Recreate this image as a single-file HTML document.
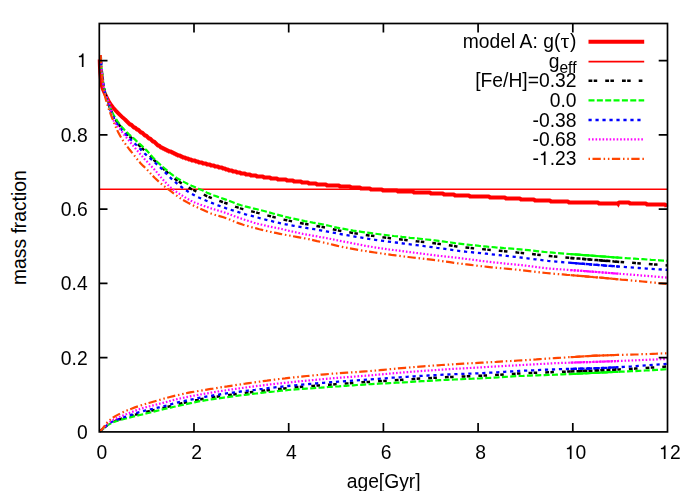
<!DOCTYPE html><html><head><meta charset="utf-8"><title>chart</title><style>
html,body{margin:0;padding:0;background:#fff}
#c{position:relative;width:699px;height:491px;overflow:hidden;background:#fff;font-family:"Liberation Sans",sans-serif;font-size:19.3px;color:#000;line-height:1}
.t{position:absolute;white-space:nowrap;line-height:1;height:19.3px;transform:scaleY(1.060);transform-origin:50% 84.65%;filter:grayscale(1)}
.r{text-align:right}
.one{width:0.556em;height:0.688em;vertical-align:baseline;fill:#000;display:inline-block}
.c{text-align:center;width:120px}
.sym{font-family:"Liberation Serif",serif;display:inline-block;transform:scaleX(1.15);margin:0 1px}
.sub{font-size:15.6px;position:relative;top:5.2px}
.yt{position:absolute;white-space:nowrap;line-height:1;width:200px;text-align:center;transform:rotate(-90deg);transform-origin:center center}
</style></head><body><div id="c">
<svg width="699" height="491" viewBox="0 0 699 491" style="position:absolute;left:0;top:0">
<rect width="699" height="491" fill="#fff"/>
<path d="M99.7 59.5 L99.8 62.9 L99.9 66.3 L100.1 69.7 L100.3 73.1 L100.7 76.6 L101.0 80.0 L101.5 83.4 L102.1 86.7 L103.2 89.9 L104.6 93.0 L106.1 96.2 L107.6 99.3 L109.2 102.2 L111.1 105.0 L113.2 107.7 L115.5 110.3 L117.9 112.8 L120.2 115.2 L122.7 117.6 L125.0 119.5 L125.0 119.5 L126.0 120.5 L126.0 120.5 L127.0 121.5 L127.0 121.5 L128.0 122.5 L128.0 122.5 L129.0 123.5 L129.0 123.5 L130.0 124.5 L131.0 124.5 L132.0 125.5 L132.0 125.5 L133.0 126.5 L133.0 126.5 L134.0 127.5 L135.0 127.5 L136.0 128.5 L136.0 128.5 L137.0 129.5 L138.0 129.5 L139.0 130.5 L139.0 130.5 L140.0 131.5 L140.0 131.5 L141.0 132.5 L142.0 132.5 L143.0 133.5 L143.0 133.5 L144.0 134.5 L144.0 134.5 L145.0 135.5 L146.0 135.5 L147.0 136.5 L147.0 136.5 L148.0 137.5 L148.0 137.5 L149.0 138.5 L150.0 138.5 L151.0 139.5 L151.0 139.5 L152.0 140.5 L152.0 140.5 L153.0 141.5 L154.0 141.5 L155.0 142.5 L155.0 142.5 L156.0 143.5 L156.0 143.5 L157.0 144.5 L157.0 144.5 L158.0 145.5 L159.0 145.5 L160.0 146.5 L160.0 146.5 L161.0 147.5 L162.0 147.5 L163.0 148.5 L164.0 148.5 L165.0 149.5 L166.0 149.5 L167.0 150.5 L168.0 150.5 L169.0 151.5 L171.0 151.5 L172.0 152.5 L173.0 152.5 L174.0 153.5 L175.0 153.5 L176.0 154.5 L177.0 154.5 L178.0 155.5 L180.0 155.5 L181.0 156.5 L182.0 156.5 L183.0 157.5 L185.0 157.5 L186.0 158.5 L188.0 158.5 L189.0 159.5 L191.0 159.5 L192.0 160.5 L195.0 160.5 L196.0 161.5 L198.0 161.5 L199.0 162.5 L202.0 162.5 L203.0 163.5 L206.0 163.5 L207.0 164.5 L210.0 164.5 L211.0 165.5 L214.0 165.5 L215.0 166.5 L218.0 166.5 L219.0 167.5 L222.0 167.5 L223.0 168.5 L225.0 168.5 L226.0 169.5 L228.0 169.5 L229.0 170.5 L232.0 170.5 L233.0 171.5 L236.0 171.5 L237.0 172.5 L240.0 172.5 L241.0 173.5 L245.0 173.5 L246.0 174.5 L250.0 174.5 L251.0 175.5 L256.0 175.5 L257.0 176.5 L263.0 176.5 L264.0 177.5 L270.0 177.5 L271.0 178.5 L277.0 178.5 L278.0 179.5 L286.0 179.5 L287.0 180.5 L293.0 180.5 L294.0 181.5 L301.0 181.5 L302.0 182.5 L308.0 182.5 L309.0 183.5 L316.0 183.5 L317.0 184.5 L326.0 184.5 L327.0 185.5 L339.0 185.5 L340.0 186.5 L350.0 186.5 L351.0 187.5 L360.0 187.5 L361.0 188.5 L370.0 188.5 L371.0 189.5 L382.0 189.5 L383.0 190.5 L397.0 190.5 L398.0 191.5 L413.0 191.5 L414.0 192.5 L430.0 192.5 L431.0 193.5 L443.0 193.5 L444.0 194.5 L454.0 194.5 L455.0 195.5 L469.0 195.5 L470.0 196.5 L489.0 196.5 L490.0 197.5 L505.0 197.5 L506.0 198.5 L520.0 198.5 L521.0 199.5 L534.0 199.5 L535.0 200.5 L550.0 200.5 L551.0 201.5 L568.0 201.5 L569.0 202.5 L598.0 202.5 L599.0 203.5 L618.0 203.5 L619.0 202.5 L629.0 202.5 L630.0 203.5 L646.0 203.5 L647.0 204.5 L665.0 204.5 L666.0 205.5 L666.0 205.5 L666.5 206.9" fill="none" stroke="#ff0000" stroke-width="3.9" stroke-linejoin="round"/>
<path d="M616.9 205 L618.4 207.8 L619.8 205Z" fill="#ff0000"/>
<path d="M99.3 189.25 H667.5" stroke="#ff0000" stroke-width="1.5" fill="none"/>
<path d="M100.7 55.0 L100.7 55.0 L100.7 55.1 L100.7 55.2 L100.7 55.4 L100.7 55.6 L100.7 56.0 L100.8 56.5 L100.8 57.1 L100.8 57.8 L100.9 58.6 L100.9 59.4 L101.0 60.2 L101.0 61.1 L101.1 62.1 L101.2 63.1 L101.2 64.1 L101.3 65.2 L101.4 66.3 L101.5 67.5 L101.6 68.7 L101.8 70.0 L101.9 71.3 L102.0 72.7 L102.2 74.1 L102.3 75.6 L102.5 77.0 L102.7 78.5 L102.9 80.0 L103.1 81.4 L103.3 82.9 L103.5 84.3 L103.7 85.7 L104.0 87.1 L104.2 88.4 L104.5 89.8 L104.8 91.2 L105.1 92.5 L105.4 93.7 L105.7 95.0 L106.0 96.2 L106.4 97.4 L106.7 98.6 L107.1 99.8 L107.4 100.9 L107.8 102.1 L108.2 103.3 L108.7 104.4 L109.1 105.6 L109.5 106.7 L110.0 107.9 L110.5 109.1 L110.9 110.2 L111.4 111.4 L112.0 112.5 L112.5 113.6 L113.0 114.8 L113.6 115.9 L114.2 117.0 L114.7 118.1 L115.3 119.1 L116.0 120.2 L116.6 121.3 L117.2 122.3 L117.9 123.3 L118.6 124.2 L119.3 125.1 L120.0 126.1 L120.7 127.0 L121.5 127.8 L122.2 128.7 L123.0 129.6 L123.8 130.5 L124.6 131.4 L125.4 132.3 L126.3 133.1 L127.1 134.0 L128.0 134.9 L128.9 135.7 L129.8 136.6 L130.8 137.4 L131.7 138.3 L132.7 139.2 L133.7 140.1 L134.7 141.0 L135.7 142.0 L136.7 143.0 L137.8 144.0 L138.8 145.0 L139.9 146.0 L141.0 147.1 L142.2 148.2 L143.3 149.3 L144.5 150.4 L145.7 151.5 L146.9 152.7 L148.1 154.0 L149.4 155.2 L150.6 156.5 L151.9 157.9 L153.2 159.2 L154.5 160.5 L155.9 161.7 L157.2 163.0 L158.6 164.3 L160.0 165.5 L161.4 166.9 L162.9 168.2 L164.3 169.6 L165.8 171.0 L167.3 172.4 L168.9 173.8 L170.4 175.1 L172.0 176.4 L173.6 177.7 L175.2 179.0 L176.8 180.2 L178.4 181.3 L180.1 182.4 L181.8 183.5 L183.5 184.6 L185.3 185.6 L187.0 186.6 L188.8 187.6 L190.6 188.6 L192.4 189.5 L194.3 190.4 L196.1 191.3 L198.0 192.1 L199.9 193.0 L201.9 193.8 L203.8 194.7 L205.8 195.6 L207.8 196.5 L209.8 197.3 L211.9 198.1 L213.9 198.9 L216.0 199.7 L218.2 200.5 L220.3 201.2 L222.5 202.0 L224.6 202.7 L226.9 203.5 L229.1 204.4 L231.3 205.2 L233.6 206.0 L235.9 206.9 L238.3 207.6 L240.6 208.4 L243.0 209.1 L245.4 209.8 L247.8 210.4 L250.3 211.0 L252.7 211.6 L255.2 212.2 L257.7 212.9 L260.3 213.5 L262.9 214.2 L265.4 214.9 L268.1 215.6 L270.7 216.3 L273.4 217.0 L276.1 217.7 L278.8 218.4 L281.5 219.0 L284.3 219.7 L287.1 220.3 L289.9 220.9 L292.8 221.5 L295.6 222.1 L298.5 222.7 L301.5 223.2 L304.4 223.8 L307.4 224.3 L310.4 224.8 L313.4 225.4 L316.5 225.9 L319.5 226.5 L322.6 227.1 L325.8 227.7 L328.9 228.3 L332.1 229.0 L335.3 229.7 L338.6 230.4 L341.8 231.0 L345.1 231.6 L348.4 232.2 L351.8 232.7 L355.1 233.3 L358.5 233.8 L362.0 234.3 L365.4 234.9 L368.9 235.4 L372.4 235.8 L375.9 236.3 L379.5 236.8 L383.1 237.3 L386.7 237.7 L390.3 238.2 L394.0 238.6 L397.7 239.1 L401.4 239.5 L405.2 239.9 L409.0 240.4 L412.8 240.8 L416.6 241.3 L420.5 241.7 L424.4 242.1 L428.3 242.6 L432.2 243.0 L436.2 243.5 L440.2 244.1 L444.3 244.6 L448.3 245.2 L452.4 245.8 L456.6 246.4 L460.7 246.9 L464.9 247.4 L469.1 247.8 L473.3 248.3 L477.6 248.7 L481.9 249.1 L486.2 249.5 L490.6 250.0 L495.0 250.4 L499.4 250.8 L503.8 251.2 L508.3 251.6 L512.8 252.0 L517.3 252.5 L521.9 252.9 L526.5 253.4 L531.1 254.0 L535.8 254.5 L540.5 255.1 L545.2 255.6 L549.9 256.1 L554.7 256.6 L559.5 257.0 L564.3 257.4 L569.2 257.8 L574.1 258.2 L579.0 258.6 L584.0 259.0 L589.0 259.4 L594.0 259.9 L599.0 260.3 L604.1 260.7 L609.2 261.1 L614.4 261.5 L619.5 261.9 L624.7 262.3 L630.0 262.7 L635.2 263.1 L640.5 263.5 L645.9 263.9 L651.2 264.2 L656.6 264.6 L662.0 265.0 L667.5 265.4" fill="none" stroke="#000000" stroke-width="2.5" stroke-dasharray="3.8 1.4 3.5 8.04"/>
<path d="M100.7 430.7 L100.7 430.7 L100.7 430.7 L100.7 430.7 L100.7 430.7 L100.7 430.7 L100.7 430.6 L100.8 430.6 L100.8 430.6 L100.8 430.6 L100.9 430.5 L100.9 430.5 L101.0 430.5 L101.0 430.4 L101.1 430.3 L101.2 430.3 L101.2 430.2 L101.3 430.1 L101.4 430.1 L101.5 430.0 L101.6 429.9 L101.8 429.8 L101.9 429.7 L102.0 429.5 L102.2 429.4 L102.3 429.3 L102.5 429.1 L102.7 429.0 L102.9 428.8 L103.1 428.6 L103.3 428.5 L103.5 428.3 L103.7 428.1 L104.0 427.9 L104.2 427.7 L104.5 427.4 L104.8 427.2 L105.1 426.9 L105.4 426.7 L105.7 426.5 L106.0 426.2 L106.4 425.9 L106.7 425.7 L107.1 425.4 L107.4 425.1 L107.8 424.8 L108.2 424.5 L108.7 424.2 L109.1 423.9 L109.5 423.7 L110.0 423.4 L110.5 423.1 L110.9 422.8 L111.4 422.5 L112.0 422.3 L112.5 422.1 L113.0 421.8 L113.6 421.6 L114.2 421.3 L114.7 421.1 L115.3 420.9 L116.0 420.6 L116.6 420.4 L117.2 420.2 L117.9 419.9 L118.6 419.7 L119.3 419.5 L120.0 419.3 L120.7 419.1 L121.5 418.8 L122.2 418.6 L123.0 418.4 L123.8 418.2 L124.6 417.9 L125.4 417.7 L126.3 417.4 L127.1 417.2 L128.0 416.9 L128.9 416.7 L129.8 416.4 L130.8 416.1 L131.7 415.8 L132.7 415.5 L133.7 415.2 L134.7 414.9 L135.7 414.6 L136.7 414.3 L137.8 414.0 L138.8 413.7 L139.9 413.5 L141.0 413.2 L142.2 412.9 L143.3 412.6 L144.5 412.3 L145.7 412.0 L146.9 411.7 L148.1 411.4 L149.4 411.1 L150.6 410.8 L151.9 410.5 L153.2 410.2 L154.5 409.9 L155.9 409.6 L157.2 409.3 L158.6 409.0 L160.0 408.6 L161.4 408.3 L162.9 407.9 L164.3 407.6 L165.8 407.2 L167.3 406.8 L168.9 406.5 L170.4 406.1 L172.0 405.7 L173.6 405.3 L175.2 404.9 L176.8 404.5 L178.4 404.1 L180.1 403.7 L181.8 403.3 L183.5 402.9 L185.3 402.5 L187.0 402.1 L188.8 401.8 L190.6 401.4 L192.4 401.0 L194.3 400.6 L196.1 400.2 L198.0 399.9 L199.9 399.5 L201.9 399.1 L203.8 398.8 L205.8 398.5 L207.8 398.1 L209.8 397.8 L211.9 397.5 L213.9 397.1 L216.0 396.8 L218.2 396.5 L220.3 396.2 L222.5 395.9 L224.6 395.6 L226.9 395.3 L229.1 395.0 L231.3 394.7 L233.6 394.4 L235.9 394.1 L238.3 393.8 L240.6 393.5 L243.0 393.2 L245.4 392.9 L247.8 392.6 L250.3 392.3 L252.7 392.0 L255.2 391.7 L257.7 391.4 L260.3 391.1 L262.9 390.8 L265.4 390.5 L268.1 390.2 L270.7 389.9 L273.4 389.6 L276.1 389.3 L278.8 389.0 L281.5 388.7 L284.3 388.4 L287.1 388.1 L289.9 387.9 L292.8 387.6 L295.6 387.3 L298.5 387.1 L301.5 386.8 L304.4 386.6 L307.4 386.4 L310.4 386.1 L313.4 385.9 L316.5 385.6 L319.5 385.4 L322.6 385.2 L325.8 384.9 L328.9 384.7 L332.1 384.5 L335.3 384.2 L338.6 384.0 L341.8 383.7 L345.1 383.5 L348.4 383.3 L351.8 383.0 L355.1 382.8 L358.5 382.6 L362.0 382.3 L365.4 382.1 L368.9 381.9 L372.4 381.6 L375.9 381.4 L379.5 381.2 L383.1 380.9 L386.7 380.7 L390.3 380.5 L394.0 380.2 L397.7 380.0 L401.4 379.8 L405.2 379.5 L409.0 379.3 L412.8 379.1 L416.6 378.8 L420.5 378.6 L424.4 378.4 L428.3 378.2 L432.2 377.9 L436.2 377.7 L440.2 377.5 L444.3 377.3 L448.3 377.1 L452.4 376.9 L456.6 376.7 L460.7 376.6 L464.9 376.4 L469.1 376.2 L473.3 376.1 L477.6 375.9 L481.9 375.7 L486.2 375.5 L490.6 375.3 L495.0 375.0 L499.4 374.7 L503.8 374.4 L508.3 374.1 L512.8 373.9 L517.3 373.6 L521.9 373.4 L526.5 373.1 L531.1 372.9 L535.8 372.8 L540.5 372.6 L545.2 372.4 L549.9 372.2 L554.7 372.0 L559.5 371.9 L564.3 371.7 L569.2 371.5 L574.1 371.3 L579.0 371.2 L584.0 371.0 L589.0 370.8 L594.0 370.6 L599.0 370.4 L604.1 370.2 L609.2 369.9 L614.4 369.7 L619.5 369.4 L624.7 369.2 L630.0 368.9 L635.2 368.6 L640.5 368.3 L645.9 368.0 L651.2 367.6 L656.6 367.3 L662.0 366.9 L667.5 366.5" fill="none" stroke="#000000" stroke-width="2.5" stroke-dasharray="3.8 1.4 3.5 8.04"/>
<path d="M100.7 55.0 L100.9 59.1 L101.2 63.2 L101.5 67.3 L101.9 71.4 L102.3 75.5 L102.8 79.5 L103.4 83.6 L104.1 87.6 L104.9 91.7 L105.9 95.6 L107.1 99.6 L108.5 103.5 L109.9 107.3 L111.6 111.0 L113.5 114.7 L115.5 118.3 L117.7 121.7 L120.1 125.0 L122.8 128.1 L125.6 131.1 L128.6 134.0 L131.7 136.7 L134.8 139.4 L137.8 142.2 L140.8 144.9 L143.9 147.7 L146.8 150.6 L149.5 153.6 L152.2 156.7 L155.0 159.7 L158.0 162.6 L161.0 165.3 L164.1 168.0 L167.3 170.7 L170.4 173.3 L173.7 175.8 L177.0 178.1 L180.6 180.2 L184.2 182.1 L187.9 184.0 L191.6 185.7 L195.3 187.3 L199.1 188.9 L202.9 190.6 L206.6 192.4 L210.3 194.0 L214.1 195.5 L218.0 196.9 L221.9 198.2 L225.8 199.6 L229.6 201.1 L233.4 202.6 L237.3 204.1 L241.1 205.3 L245.1 206.4 L249.1 207.4 L253.1 208.4 L257.1 209.3 L261.0 210.3 L265.0 211.3 L269.0 212.4 L272.9 213.5 L276.9 214.6 L280.8 215.6 L284.8 216.6 L288.8 217.6 L292.8 218.5 L296.8 219.4 L300.8 220.3 L304.8 221.1 L308.9 221.8 L312.9 222.6 L317.0 223.3 L321.0 224.1 L325.0 224.9 L329.0 225.8 L333.0 226.7 L337.0 227.6 L341.0 228.4 L345.1 229.2 L349.1 229.9 L353.1 230.6 L357.2 231.2 L361.3 231.8 L365.3 232.4 L369.4 232.9 L373.5 233.5 L377.5 234.0 L381.6 234.5 L385.7 235.0 L389.7 235.5 L393.8 236.0 L397.9 236.4 L402.0 236.9 L406.1 237.3 L410.1 237.8 L414.2 238.2 L418.3 238.6 L422.4 239.0 L426.5 239.5 L430.5 239.9 L434.6 240.4 L438.7 240.9 L442.7 241.4 L446.8 242.0 L450.9 242.5 L454.9 243.1 L459.0 243.6 L463.1 244.1 L467.2 244.6 L471.2 245.0 L475.3 245.4 L479.4 245.9 L483.5 246.3 L487.6 246.7 L491.6 247.0 L495.7 247.4 L499.8 247.7 L503.9 248.1 L508.0 248.4 L512.1 248.7 L516.2 249.0 L520.3 249.4 L524.4 249.8 L528.4 250.2 L532.5 250.6 L536.6 251.1 L540.7 251.6 L544.7 252.0 L548.8 252.4 L552.9 252.7 L557.0 253.1 L561.1 253.4 L565.2 253.7 L569.3 254.0 L573.4 254.3 L577.5 254.6 L581.5 254.9 L585.6 255.2 L589.7 255.5 L593.8 255.8 L597.9 256.1 L602.0 256.4 L606.1 256.7 L610.2 257.0 L614.3 257.3 L618.4 257.6 L622.5 257.9 L626.6 258.2 L630.7 258.4 L634.7 258.7 L638.8 259.0 L642.9 259.2 L647.0 259.5 L651.1 259.8 L655.2 260.0 L659.3 260.3 L663.4 260.6 L667.5 260.8" fill="none" stroke="#00ff00" stroke-width="2.2" stroke-dasharray="6 2.35"/>
<path d="M99.5 431.7 L102.3 429.4 L105.1 427.1 L108.1 424.9 L111.2 423.1 L114.4 421.7 L117.8 420.6 L121.3 419.6 L124.9 418.7 L128.4 417.8 L131.9 416.9 L135.4 416.0 L138.9 415.2 L142.5 414.4 L146.0 413.5 L149.5 412.7 L153.0 411.8 L156.5 410.9 L160.0 410.1 L163.5 409.2 L167.1 408.4 L170.6 407.6 L174.1 406.8 L177.6 406.0 L181.2 405.2 L184.7 404.4 L188.2 403.6 L191.8 402.9 L195.3 402.1 L198.8 401.4 L202.4 400.8 L206.0 400.2 L209.5 399.7 L213.1 399.1 L216.7 398.6 L220.3 398.1 L223.8 397.6 L227.4 397.1 L231.0 396.6 L234.6 396.1 L238.2 395.7 L241.8 395.2 L245.4 394.8 L248.9 394.3 L252.5 393.9 L256.1 393.5 L259.7 393.1 L263.3 392.6 L266.9 392.2 L270.5 391.8 L274.1 391.5 L277.7 391.1 L281.3 390.7 L284.9 390.4 L288.5 390.0 L292.1 389.7 L295.7 389.4 L299.3 389.1 L302.9 388.9 L306.5 388.6 L310.1 388.3 L313.7 388.1 L317.3 387.8 L320.9 387.6 L324.5 387.3 L328.1 387.0 L331.7 386.8 L335.4 386.5 L339.0 386.3 L342.6 386.0 L346.2 385.8 L349.8 385.5 L353.4 385.3 L357.0 385.0 L360.6 384.8 L364.2 384.6 L367.8 384.3 L371.4 384.1 L375.0 383.9 L378.6 383.7 L382.3 383.5 L385.9 383.3 L389.5 383.1 L393.1 382.9 L396.7 382.7 L400.3 382.5 L403.9 382.3 L407.5 382.1 L411.1 381.8 L414.7 381.6 L418.3 381.4 L422.0 381.2 L425.6 381.0 L429.2 380.8 L432.8 380.6 L436.4 380.4 L440.0 380.2 L443.6 380.0 L447.2 379.8 L450.8 379.6 L454.4 379.5 L458.1 379.3 L461.7 379.2 L465.3 379.0 L468.9 378.8 L472.5 378.7 L476.1 378.5 L479.7 378.4 L483.3 378.2 L487.0 378.0 L490.6 377.8 L494.2 377.6 L497.8 377.4 L501.4 377.1 L505.0 376.9 L508.6 376.7 L512.2 376.4 L515.8 376.2 L519.4 376.0 L523.0 375.9 L526.7 375.7 L530.3 375.6 L533.9 375.4 L537.5 375.3 L541.1 375.2 L544.7 375.1 L548.3 374.9 L551.9 374.8 L555.6 374.7 L559.2 374.5 L562.8 374.4 L566.4 374.2 L570.0 374.1 L573.6 373.9 L577.2 373.7 L580.8 373.5 L584.5 373.4 L588.1 373.2 L591.7 373.0 L595.3 372.8 L598.9 372.7 L602.5 372.5 L606.1 372.3 L609.7 372.2 L613.3 372.0 L617.0 371.9 L620.6 371.7 L624.2 371.6 L627.8 371.4 L631.4 371.2 L635.0 371.1 L638.6 370.9 L642.2 370.7 L645.8 370.5 L649.5 370.3 L653.1 370.1 L656.7 369.9 L660.3 369.7 L663.9 369.4 L667.5 369.2" fill="none" stroke="#00ff00" stroke-width="2.2" stroke-dasharray="6 2.35"/>
<path d="M100.7 55.0 L100.9 59.1 L101.2 63.3 L101.5 67.4 L101.9 71.5 L102.3 75.6 L102.8 79.7 L103.4 83.8 L104.1 87.9 L104.9 92.0 L105.8 96.0 L107.0 100.0 L108.3 103.9 L109.6 107.8 L111.1 111.7 L112.8 115.6 L114.6 119.3 L116.5 122.9 L118.8 126.3 L121.4 129.5 L124.2 132.7 L126.9 135.8 L129.8 138.7 L132.8 141.6 L135.8 144.5 L138.7 147.4 L141.6 150.4 L144.5 153.3 L147.6 156.1 L150.7 158.8 L153.8 161.6 L156.9 164.3 L160.0 167.1 L162.9 170.0 L165.7 173.0 L168.6 176.0 L171.6 178.8 L174.7 181.6 L177.9 184.2 L181.2 186.8 L184.5 189.2 L187.9 191.5 L191.5 193.7 L195.1 195.7 L198.8 197.5 L202.6 199.2 L206.4 200.8 L210.2 202.3 L214.1 203.8 L218.0 205.3 L221.9 206.7 L225.8 208.1 L229.7 209.4 L233.6 210.7 L237.6 211.9 L241.5 213.1 L245.5 214.3 L249.5 215.4 L253.5 216.4 L257.5 217.5 L261.5 218.5 L265.5 219.6 L269.5 220.6 L273.5 221.6 L277.5 222.6 L281.6 223.5 L285.6 224.3 L289.7 225.1 L293.8 225.8 L297.8 226.5 L301.9 227.2 L306.0 227.9 L310.1 228.6 L314.2 229.2 L318.3 229.9 L322.3 230.6 L326.4 231.4 L330.5 232.2 L334.5 232.9 L338.6 233.7 L342.7 234.5 L346.7 235.2 L350.8 235.9 L354.9 236.6 L359.0 237.3 L363.1 237.9 L367.2 238.6 L371.2 239.2 L375.3 239.8 L379.4 240.4 L383.5 240.9 L387.6 241.5 L391.7 242.0 L395.8 242.5 L400.0 243.0 L404.1 243.6 L408.2 244.1 L412.3 244.6 L416.4 245.1 L420.5 245.6 L424.6 246.2 L428.7 246.7 L432.8 247.2 L436.9 247.8 L441.0 248.3 L445.1 248.9 L449.2 249.6 L453.3 250.1 L457.4 250.7 L461.5 251.2 L465.6 251.7 L469.7 252.1 L473.8 252.5 L477.9 252.9 L482.1 253.3 L486.2 253.7 L490.3 254.1 L494.4 254.6 L498.5 255.0 L502.6 255.4 L506.8 255.9 L510.9 256.4 L515.0 256.8 L519.1 257.3 L523.2 257.8 L527.3 258.3 L531.4 258.8 L535.5 259.3 L539.6 259.8 L543.7 260.3 L547.8 260.8 L552.0 261.2 L556.1 261.6 L560.2 261.9 L564.3 262.3 L568.5 262.6 L572.6 262.9 L576.7 263.3 L580.8 263.6 L585.0 264.0 L589.1 264.3 L593.2 264.6 L597.3 264.9 L601.5 265.3 L605.6 265.6 L609.7 265.9 L613.8 266.2 L618.0 266.5 L622.1 266.8 L626.2 267.1 L630.3 267.4 L634.5 267.7 L638.6 268.0 L642.7 268.3 L646.8 268.6 L651.0 268.9 L655.1 269.1 L659.2 269.4 L663.4 269.6 L667.5 269.9" fill="none" stroke="#0000ff" stroke-width="2.3" stroke-dasharray="3.2 3.78"/>
<path d="M99.5 431.7 L102.2 429.3 L105.0 426.8 L107.8 424.5 L110.7 422.5 L113.9 420.9 L117.2 419.6 L120.6 418.3 L124.1 417.2 L127.6 416.1 L131.1 414.9 L134.5 413.7 L137.9 412.5 L141.4 411.5 L144.9 410.6 L148.4 409.8 L152.0 409.0 L155.5 408.2 L159.1 407.4 L162.6 406.6 L166.1 405.7 L169.6 404.7 L173.1 403.7 L176.6 402.8 L180.1 401.9 L183.6 401.1 L187.2 400.4 L190.7 399.6 L194.3 398.9 L197.8 398.1 L201.4 397.5 L205.0 396.8 L208.5 396.2 L212.1 395.6 L215.7 395.0 L219.3 394.5 L222.8 393.9 L226.4 393.4 L230.0 392.9 L233.6 392.5 L237.2 392.0 L240.8 391.5 L244.4 391.1 L248.0 390.6 L251.6 390.2 L255.2 389.8 L258.8 389.3 L262.4 388.9 L266.0 388.4 L269.6 388.0 L273.2 387.6 L276.8 387.2 L280.4 386.8 L284.0 386.4 L287.6 386.0 L291.2 385.7 L294.8 385.3 L298.4 385.0 L302.0 384.7 L305.7 384.3 L309.3 384.0 L312.9 383.7 L316.5 383.4 L320.1 383.1 L323.7 382.8 L327.3 382.5 L330.9 382.2 L334.6 382.0 L338.2 381.7 L341.8 381.4 L345.4 381.1 L349.0 380.9 L352.6 380.6 L356.2 380.4 L359.9 380.1 L363.5 379.9 L367.1 379.6 L370.7 379.3 L374.3 379.1 L377.9 378.8 L381.6 378.5 L385.2 378.3 L388.8 378.0 L392.4 377.7 L396.0 377.5 L399.6 377.3 L403.2 377.0 L406.9 376.8 L410.5 376.6 L414.1 376.3 L417.7 376.1 L421.3 375.9 L425.0 375.7 L428.6 375.5 L432.2 375.3 L435.8 375.1 L439.4 374.9 L443.1 374.7 L446.7 374.5 L450.3 374.4 L453.9 374.2 L457.5 374.1 L461.2 373.9 L464.8 373.8 L468.4 373.7 L472.0 373.6 L475.6 373.4 L479.3 373.3 L482.9 373.1 L486.5 372.9 L490.1 372.7 L493.7 372.5 L497.4 372.3 L501.0 372.1 L504.6 371.8 L508.2 371.6 L511.8 371.4 L515.5 371.2 L519.1 371.0 L522.7 370.8 L526.3 370.6 L529.9 370.4 L533.6 370.3 L537.2 370.1 L540.8 369.9 L544.4 369.8 L548.0 369.6 L551.7 369.5 L555.3 369.4 L558.9 369.2 L562.5 369.1 L566.2 369.0 L569.8 368.9 L573.4 368.8 L577.0 368.7 L580.6 368.7 L584.3 368.6 L587.9 368.5 L591.5 368.4 L595.1 368.3 L598.8 368.1 L602.4 368.0 L606.0 367.9 L609.6 367.7 L613.2 367.5 L616.9 367.3 L620.5 367.1 L624.1 366.8 L627.7 366.6 L631.3 366.4 L635.0 366.1 L638.6 365.9 L642.2 365.7 L645.8 365.4 L649.4 365.2 L653.0 364.9 L656.7 364.7 L660.3 364.4 L663.9 364.2 L667.5 363.9" fill="none" stroke="#0000ff" stroke-width="2.3" stroke-dasharray="3.2 3.78"/>
<path d="M100.7 55.0 L100.9 59.2 L101.2 63.3 L101.5 67.5 L101.9 71.7 L102.3 75.8 L102.8 80.0 L103.3 84.2 L103.9 88.3 L104.7 92.4 L106.0 96.3 L107.9 100.1 L109.6 103.9 L110.6 107.9 L111.3 112.2 L112.1 116.3 L113.2 120.1 L115.4 123.6 L118.2 126.9 L120.8 130.2 L123.3 133.6 L125.9 136.8 L128.5 140.1 L131.1 143.3 L133.8 146.5 L136.5 149.8 L139.2 152.9 L141.9 156.1 L144.7 159.2 L147.6 162.2 L150.4 165.3 L153.3 168.3 L156.1 171.4 L158.7 174.6 L161.4 177.9 L164.2 181.0 L167.0 184.0 L170.0 187.0 L173.2 189.6 L176.6 192.0 L180.2 194.3 L183.7 196.5 L187.3 198.7 L190.9 200.7 L194.7 202.5 L198.6 204.0 L202.5 205.5 L206.5 206.8 L210.4 208.2 L214.4 209.4 L218.4 210.6 L222.4 211.8 L226.4 213.2 L230.3 214.6 L234.2 216.1 L238.1 217.5 L242.1 218.9 L246.0 220.2 L250.0 221.4 L254.0 222.7 L258.0 223.8 L262.1 224.8 L266.1 225.8 L270.2 226.7 L274.3 227.5 L278.4 228.3 L282.5 229.2 L286.6 230.2 L290.6 231.2 L294.7 232.1 L298.8 233.0 L302.9 233.9 L307.0 234.6 L311.1 235.4 L315.2 236.0 L319.3 236.8 L323.4 237.5 L327.5 238.3 L331.6 239.1 L335.7 240.0 L339.8 240.8 L343.9 241.6 L348.0 242.4 L352.1 243.2 L356.2 244.0 L360.3 244.8 L364.4 245.6 L368.5 246.3 L372.6 247.0 L376.7 247.7 L380.9 248.3 L385.0 248.9 L389.1 249.5 L393.3 250.0 L397.4 250.5 L401.6 251.0 L405.7 251.6 L409.9 252.1 L414.0 252.7 L418.2 253.2 L422.3 253.7 L426.4 254.2 L430.6 254.8 L434.7 255.3 L438.9 255.8 L443.0 256.2 L447.2 256.7 L451.3 257.1 L455.5 257.6 L459.6 258.1 L463.8 258.6 L467.9 259.1 L472.1 259.7 L476.2 260.2 L480.3 260.8 L484.5 261.3 L488.6 261.8 L492.8 262.3 L496.9 262.7 L501.1 263.1 L505.2 263.6 L509.4 264.0 L513.6 264.4 L517.7 264.8 L521.9 265.2 L526.0 265.7 L530.2 266.2 L534.3 266.8 L538.4 267.3 L542.6 267.8 L546.7 268.3 L550.9 268.7 L555.1 269.0 L559.2 269.2 L563.4 269.5 L567.6 269.8 L571.7 270.2 L575.9 270.5 L580.1 270.8 L584.2 271.1 L588.4 271.4 L592.6 271.7 L596.7 272.0 L600.9 272.3 L605.0 272.6 L609.2 273.0 L613.4 273.3 L617.5 273.6 L621.7 273.9 L625.9 274.2 L630.0 274.6 L634.2 274.9 L638.4 275.2 L642.5 275.6 L646.7 275.9 L650.8 276.2 L655.0 276.6 L659.2 276.9 L663.3 277.3 L667.5 277.6" fill="none" stroke="#ff00ff" stroke-width="2.2" stroke-dasharray="1.6 1.92"/>
<path d="M99.5 431.7 L102.2 429.3 L104.8 426.6 L107.3 424.0 L110.1 421.7 L113.1 419.9 L116.3 418.3 L119.7 416.8 L123.1 415.4 L126.6 414.1 L130.0 412.7 L133.3 411.4 L136.7 410.1 L140.2 408.9 L143.6 407.9 L147.1 406.9 L150.7 406.0 L154.2 405.1 L157.7 404.2 L161.3 403.3 L164.8 402.4 L168.3 401.5 L171.8 400.5 L175.3 399.6 L178.8 398.7 L182.4 398.0 L185.9 397.2 L189.5 396.5 L193.1 395.8 L196.7 395.2 L200.2 394.5 L203.8 393.9 L207.4 393.3 L211.0 392.7 L214.6 392.1 L218.2 391.5 L221.7 390.9 L225.3 390.4 L228.9 389.8 L232.5 389.3 L236.1 388.8 L239.7 388.3 L243.3 387.8 L246.9 387.3 L250.5 386.8 L254.1 386.4 L257.8 385.9 L261.4 385.5 L265.0 385.1 L268.6 384.6 L272.2 384.2 L275.8 383.8 L279.4 383.4 L283.0 383.0 L286.6 382.7 L290.3 382.3 L293.9 381.9 L297.5 381.5 L301.1 381.2 L304.7 380.8 L308.3 380.5 L312.0 380.1 L315.6 379.8 L319.2 379.5 L322.8 379.1 L326.4 378.8 L330.1 378.5 L333.7 378.2 L337.3 377.9 L340.9 377.6 L344.6 377.3 L348.2 377.1 L351.8 376.8 L355.4 376.5 L359.1 376.2 L362.7 375.9 L366.3 375.7 L369.9 375.4 L373.6 375.0 L377.2 374.7 L380.8 374.4 L384.4 374.1 L388.0 373.8 L391.7 373.4 L395.3 373.1 L398.9 372.8 L402.5 372.5 L406.1 372.2 L409.8 371.9 L413.4 371.6 L417.0 371.4 L420.6 371.1 L424.3 370.8 L427.9 370.6 L431.5 370.3 L435.1 370.1 L438.8 369.8 L442.4 369.6 L446.0 369.3 L449.7 369.1 L453.3 368.9 L456.9 368.7 L460.5 368.5 L464.2 368.3 L467.8 368.1 L471.4 367.9 L475.1 367.7 L478.7 367.5 L482.3 367.3 L485.9 367.1 L489.6 366.8 L493.2 366.6 L496.8 366.4 L500.5 366.2 L504.1 366.0 L507.7 365.8 L511.3 365.6 L515.0 365.4 L518.6 365.2 L522.2 365.0 L525.9 364.8 L529.5 364.6 L533.1 364.4 L536.8 364.2 L540.4 364.0 L544.0 363.8 L547.6 363.6 L551.3 363.4 L554.9 363.2 L558.5 363.1 L562.2 362.9 L565.8 362.8 L569.4 362.7 L573.1 362.5 L576.7 362.4 L580.3 362.3 L584.0 362.2 L587.6 362.1 L591.2 362.0 L594.9 361.9 L598.5 361.8 L602.1 361.6 L605.8 361.5 L609.4 361.4 L613.0 361.2 L616.7 361.1 L620.3 360.9 L623.9 360.8 L627.6 360.6 L631.2 360.5 L634.8 360.3 L638.4 360.2 L642.1 360.0 L645.7 359.9 L649.3 359.7 L653.0 359.6 L656.6 359.4 L660.2 359.2 L663.9 359.1 L667.5 358.9" fill="none" stroke="#ff00ff" stroke-width="2.2" stroke-dasharray="1.6 1.92"/>
<path d="M100.7 55.0 L100.9 59.2 L101.1 63.4 L101.4 67.6 L101.7 71.8 L102.1 76.0 L102.5 80.2 L103.0 84.4 L103.6 88.5 L104.2 92.7 L105.1 96.8 L106.2 100.9 L107.4 104.9 L108.7 108.9 L110.2 112.8 L111.7 116.8 L113.2 120.7 L114.7 124.6 L116.4 128.5 L118.2 132.3 L120.2 136.0 L122.3 139.6 L124.7 143.1 L127.2 146.5 L129.7 149.8 L132.4 153.1 L135.0 156.4 L137.6 159.7 L140.3 162.9 L143.2 165.9 L146.3 168.8 L149.1 171.9 L151.9 175.0 L154.9 178.0 L158.0 180.9 L161.1 183.7 L164.4 186.3 L167.7 188.9 L171.1 191.4 L174.4 194.0 L177.8 196.5 L181.3 198.9 L184.9 201.0 L188.6 203.1 L192.3 205.0 L196.1 206.8 L199.9 208.6 L203.8 210.3 L207.6 212.1 L211.5 213.7 L215.4 215.0 L219.5 216.1 L223.5 217.3 L227.5 218.7 L231.4 220.3 L235.3 221.9 L239.2 223.4 L243.2 224.7 L247.2 225.9 L251.3 227.1 L255.4 228.1 L259.4 229.2 L263.5 230.2 L267.6 231.1 L271.7 232.1 L275.8 232.9 L280.0 233.8 L284.1 234.6 L288.2 235.3 L292.4 236.1 L296.5 236.8 L300.6 237.6 L304.8 238.4 L308.9 239.2 L313.0 240.1 L317.1 241.1 L321.2 242.0 L325.3 242.9 L329.4 243.9 L333.5 244.9 L337.6 245.9 L341.7 246.8 L345.8 247.6 L349.9 248.4 L354.1 249.2 L358.2 249.9 L362.4 250.6 L366.5 251.2 L370.7 251.9 L374.8 252.5 L379.0 253.1 L383.2 253.7 L387.3 254.3 L391.5 254.9 L395.7 255.4 L399.8 255.9 L404.0 256.5 L408.2 257.0 L412.4 257.5 L416.5 258.0 L420.7 258.4 L424.9 258.9 L429.1 259.4 L433.2 259.9 L437.4 260.4 L441.6 261.0 L445.7 261.6 L449.9 262.2 L454.1 262.8 L458.2 263.4 L462.4 263.9 L466.6 264.4 L470.8 264.9 L474.9 265.4 L479.1 265.9 L483.3 266.4 L487.5 266.8 L491.7 267.3 L495.8 267.7 L500.0 268.1 L504.2 268.5 L508.4 268.9 L512.6 269.3 L516.8 269.7 L521.0 270.1 L525.1 270.6 L529.3 271.1 L533.5 271.6 L537.7 272.1 L541.8 272.6 L546.0 273.0 L550.2 273.4 L554.4 273.8 L558.6 274.1 L562.8 274.4 L567.0 274.8 L571.2 275.1 L575.4 275.5 L579.6 275.9 L583.7 276.2 L587.9 276.6 L592.1 276.9 L596.3 277.3 L600.5 277.7 L604.7 278.0 L608.9 278.4 L613.1 278.8 L617.3 279.2 L621.4 279.6 L625.6 279.9 L629.8 280.3 L634.0 280.7 L638.2 281.1 L642.4 281.5 L646.6 281.9 L650.8 282.3 L654.9 282.7 L659.1 283.2 L663.3 283.6 L667.5 284.0" fill="none" stroke="#ff4500" stroke-width="2.2" stroke-dasharray="8.3 2.8 1.5 2.8 1.5 2.5"/>
<path d="M99.5 431.7 L102.1 429.2 L104.4 426.2 L106.5 423.2 L109.0 420.7 L111.8 418.4 L114.9 416.4 L118.1 414.6 L121.4 412.9 L124.7 411.4 L128.0 410.0 L131.5 408.7 L134.9 407.4 L138.4 406.2 L141.8 405.1 L145.3 404.0 L148.8 403.0 L152.3 402.0 L155.8 401.0 L159.3 400.0 L162.9 398.9 L166.4 398.0 L169.9 397.0 L173.4 396.1 L177.0 395.3 L180.5 394.5 L184.1 393.7 L187.7 392.9 L191.3 392.2 L194.9 391.6 L198.5 391.0 L202.1 390.4 L205.7 389.8 L209.3 389.2 L212.9 388.7 L216.5 388.1 L220.1 387.5 L223.7 386.9 L227.3 386.4 L230.9 385.8 L234.5 385.3 L238.1 384.7 L241.7 384.2 L245.3 383.7 L249.0 383.1 L252.6 382.6 L256.2 382.1 L259.8 381.6 L263.4 381.1 L267.0 380.7 L270.7 380.2 L274.3 379.7 L277.9 379.2 L281.5 378.8 L285.1 378.4 L288.8 377.9 L292.4 377.5 L296.0 377.2 L299.7 376.8 L303.3 376.4 L306.9 376.0 L310.6 375.7 L314.2 375.3 L317.8 375.0 L321.5 374.6 L325.1 374.3 L328.7 374.0 L332.4 373.7 L336.0 373.5 L339.6 373.2 L343.3 372.9 L346.9 372.7 L350.6 372.5 L354.2 372.2 L357.9 372.0 L361.5 371.7 L365.1 371.4 L368.8 371.2 L372.4 370.8 L376.0 370.5 L379.7 370.2 L383.3 369.8 L386.9 369.5 L390.6 369.1 L394.2 368.8 L397.9 368.4 L401.5 368.1 L405.1 367.8 L408.8 367.5 L412.4 367.2 L416.0 366.9 L419.7 366.6 L423.3 366.3 L427.0 366.1 L430.6 365.8 L434.2 365.5 L437.9 365.3 L441.5 365.0 L445.2 364.8 L448.8 364.6 L452.4 364.3 L456.1 364.1 L459.7 363.9 L463.4 363.7 L467.0 363.5 L470.7 363.3 L474.3 363.1 L478.0 362.9 L481.6 362.7 L485.2 362.5 L488.9 362.3 L492.5 362.1 L496.2 361.9 L499.8 361.6 L503.5 361.4 L507.1 361.2 L510.8 361.0 L514.4 360.8 L518.0 360.5 L521.7 360.3 L525.3 360.1 L529.0 359.9 L532.6 359.6 L536.3 359.4 L539.9 359.1 L543.5 358.9 L547.2 358.6 L550.8 358.4 L554.5 358.1 L558.1 357.9 L561.7 357.7 L565.4 357.5 L569.0 357.2 L572.7 357.0 L576.3 356.8 L580.0 356.5 L583.6 356.3 L587.3 356.1 L590.9 355.9 L594.5 355.7 L598.2 355.6 L601.8 355.4 L605.5 355.3 L609.1 355.2 L612.8 355.1 L616.4 355.0 L620.1 354.9 L623.7 354.8 L627.4 354.7 L631.0 354.6 L634.7 354.5 L638.3 354.4 L642.0 354.2 L645.6 354.1 L649.3 354.0 L652.9 353.8 L656.6 353.7 L660.2 353.5 L663.9 353.4 L667.5 353.2" fill="none" stroke="#ff4500" stroke-width="2.2" stroke-dasharray="8.3 2.8 1.5 2.8 1.5 2.5"/>
<path d="M570.5 257.9 L574.9 258.3 L579.2 258.6 L583.6 259.0 L588.0 259.4 L592.3 259.7 L596.7 260.1 L601.0 260.4 L605.4 260.8 L609.8 261.1 L614.1 261.5 L618.5 261.8" fill="none" stroke="#000000" stroke-width="2.5" stroke-dasharray="4 2"/>
<path d="M570.5 371.5 L574.9 371.3 L579.2 371.2 L583.6 371.0 L588.0 370.8 L592.3 370.7 L596.7 370.5 L601.0 370.3 L605.4 370.1 L609.8 369.9 L614.1 369.7 L618.5 369.5" fill="none" stroke="#000000" stroke-width="2.5" stroke-dasharray="4 2"/>
<path d="M570.5 254.1 L574.9 254.4 L579.2 254.7 L583.6 255.1 L588.0 255.4 L592.3 255.7 L596.7 256.0 L601.0 256.4 L605.4 256.7 L609.8 257.0 L614.1 257.3 L618.5 257.6" fill="none" stroke="#00ff00" stroke-width="2.2"/>
<path d="M570.5 374.0 L574.9 373.8 L579.2 373.6 L583.6 373.4 L588.0 373.2 L592.3 373.0 L596.7 372.8 L601.0 372.6 L605.4 372.4 L609.8 372.2 L614.1 372.0 L618.5 371.8" fill="none" stroke="#00ff00" stroke-width="2.2"/>
<path d="M570.5 262.8 L574.9 263.1 L579.2 263.5 L583.6 263.8 L588.0 264.2 L592.3 264.5 L596.7 264.9 L601.0 265.2 L605.4 265.6 L609.8 265.9 L614.1 266.2 L618.5 266.6" fill="none" stroke="#0000ff" stroke-width="2.3" stroke-dasharray="6.5 1.1"/>
<path d="M570.5 368.9 L574.9 368.8 L579.2 368.7 L583.6 368.6 L588.0 368.5 L592.3 368.4 L596.7 368.2 L601.0 368.1 L605.4 367.9 L609.8 367.7 L614.1 367.4 L618.5 367.2" fill="none" stroke="#0000ff" stroke-width="2.3" stroke-dasharray="6.5 1.1"/>
<path d="M570.5 270.1 L574.9 270.4 L579.2 270.7 L583.6 271.0 L588.0 271.4 L592.3 271.7 L596.7 272.0 L601.0 272.3 L605.4 272.7 L609.8 273.0 L614.1 273.3 L618.5 273.7" fill="none" stroke="#ff00ff" stroke-width="2.2" stroke-dasharray="2.3 0.8"/>
<path d="M570.5 362.6 L574.9 362.5 L579.2 362.4 L583.6 362.2 L588.0 362.1 L592.3 362.0 L596.7 361.8 L601.0 361.7 L605.4 361.5 L609.8 361.3 L614.1 361.2 L618.5 361.0" fill="none" stroke="#ff00ff" stroke-width="2.2" stroke-dasharray="2.3 0.8"/>
<path d="M570.5 275.1 L574.9 275.5 L579.2 275.8 L583.6 276.2 L588.0 276.6 L592.3 277.0 L596.7 277.3 L601.0 277.7 L605.4 278.1 L609.8 278.5 L614.1 278.9 L618.5 279.3" fill="none" stroke="#ff4500" stroke-width="2.2" stroke-dasharray="13 1.2"/>
<path d="M570.5 357.1 L574.9 356.9 L579.2 356.6 L583.6 356.3 L588.0 356.1 L592.3 355.9 L596.7 355.6 L601.0 355.5 L605.4 355.3 L609.8 355.2 L614.1 355.0 L618.5 354.9" fill="none" stroke="#ff4500" stroke-width="2.2" stroke-dasharray="13 1.2"/>
<rect x="99.3" y="23.5" width="568.2" height="408.4" fill="none" stroke="#000" stroke-width="1.7"/>
<path d="M194.00 431.9 v-9 M194.00 23.5 v9 M288.70 431.9 v-9 M288.70 23.5 v9 M383.40 431.9 v-9 M383.40 23.5 v9 M478.10 431.9 v-9 M478.10 23.5 v9 M572.80 431.9 v-9 M572.80 23.5 v9 M99.3 357.65 h8.2 M667.5 357.65 h-8.8 M99.3 283.39 h8.2 M667.5 283.39 h-8.8 M99.3 209.14 h8.2 M667.5 209.14 h-8.8 M99.3 134.88 h8.2 M667.5 134.88 h-8.8 M99.3 60.63 h8.2 M667.5 60.63 h-8.8" stroke="#000" stroke-width="1.7" fill="none"/>
<path d="M588.5 41.8 H644.2" stroke="#ff0000" stroke-width="4.1"/>
<path d="M588.5 61.6 H644.2" stroke="#ff0000" stroke-width="1.6"/>
<path d="M588.5 80.8 H642.4" stroke="#000000" stroke-width="2.5" stroke-dasharray="3.8 1.4 3.5 8.04"/>
<path d="M588.5 100.4 H644.2" stroke="#00ff00" stroke-width="2.2" stroke-dasharray="6 2.35"/>
<path d="M588.5 120.0 H644.2" stroke="#0000ff" stroke-width="2.3" stroke-dasharray="3.2 3.78"/>
<path d="M588.5 139.3 H644.2" stroke="#ff00ff" stroke-width="2.2" stroke-dasharray="1.6 1.92"/>
<path d="M588.5 158.8 H644.2" stroke="#ff4500" stroke-width="2.2" stroke-dasharray="8.3 2.8 1.5 2.8 1.5 2.5" stroke-dashoffset="15.4"/>
</svg>
<div class="t r" style="right:611.4px;top:422.76px">0</div>
<div class="t r" style="right:611.4px;top:348.51px">0.2</div>
<div class="t r" style="right:611.4px;top:274.25px">0.4</div>
<div class="t r" style="right:611.4px;top:200.00px">0.6</div>
<div class="t r" style="right:611.4px;top:125.74px">0.8</div>
<div class="t r" style="right:611.4px;top:51.49px"><svg class="one" viewBox="0 -1409 1139 1409"><path d="M515 0H696V-1409H560C530 -1250 400 -1150 200 -1140V-1005H515Z"/></svg></div>
<div class="t c" style="left:41.9px;top:442.86px">0</div>
<div class="t c" style="left:136.6px;top:442.86px">2</div>
<div class="t c" style="left:231.3px;top:442.86px">4</div>
<div class="t c" style="left:326.0px;top:442.86px">6</div>
<div class="t c" style="left:420.7px;top:442.86px">8</div>
<div class="t c" style="left:515.4px;top:442.86px"><svg class="one" viewBox="0 -1409 1139 1409"><path d="M515 0H696V-1409H560C530 -1250 400 -1150 200 -1140V-1005H515Z"/></svg>0</div>
<div class="t c" style="left:610.1px;top:442.86px"><svg class="one" viewBox="0 -1409 1139 1409"><path d="M515 0H696V-1409H560C530 -1250 400 -1150 200 -1140V-1005H515Z"/></svg>2</div>
<div class="t c" style="left:323.7px;top:472.16px">age[Gyr]</div>
<div class="yt" style="left:-79.8px;top:218.2px">mass fraction</div>
<div class="t r" style="right:122.5px;top:32.46px">model A: g(<span class="sym">&tau;</span>)</div>
<div class="t r" style="right:122.5px;top:52.26px">g<span class="sub">eff</span></div>
<div class="t r" style="right:122.5px;top:71.46px">[Fe/H]=0.32</div>
<div class="t r" style="right:122.5px;top:91.06px">0.0</div>
<div class="t r" style="right:122.5px;top:110.66px">-0.38</div>
<div class="t r" style="right:122.5px;top:129.96px">-0.68</div>
<div class="t r" style="right:122.5px;top:149.46px">-<svg class="one" viewBox="0 -1409 1139 1409"><path d="M515 0H696V-1409H560C530 -1250 400 -1150 200 -1140V-1005H515Z"/></svg>.23</div>
</div></body></html>
